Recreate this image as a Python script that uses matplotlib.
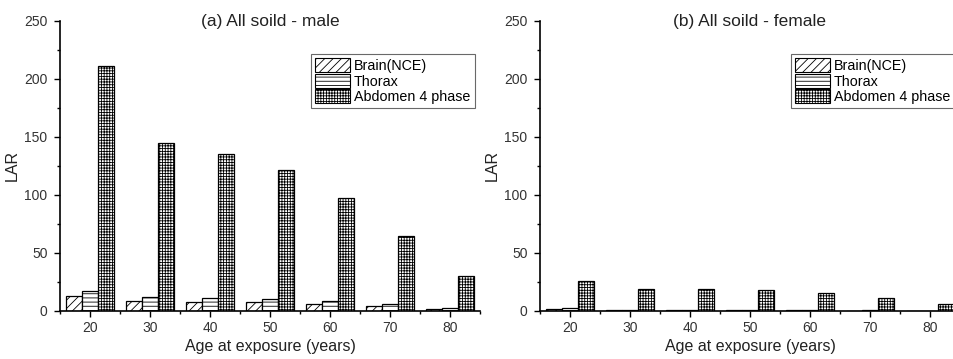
import numpy as np
import matplotlib.pyplot as plt
from matplotlib.patches import Patch
from matplotlib.ticker import MultipleLocator

plt.rcParams['font.family'] = ['Liberation Sans', 'DejaVu Sans']
plt.rcParams['hatch.linewidth'] = 0.6

ages = [20, 30, 40, 50, 60, 70, 80]
series = ["Brain(NCE)", "Thorax", "Abdomen 4 phase"]

male_brain = [13.2, 8.6, 8.0, 7.5, 6.0, 4.3, 1.7]
male_thorax = [17.2, 12.0, 11.2, 10.0, 8.3, 6.0, 2.6]
male_abdomen = [211, 144.5, 135.5, 121, 97, 64.6, 30]

female_brain = [1.5, 0.8, 0.7, 0.6, 0.5, 0.4, 0.2]
female_thorax = [2.5, 1.2, 1.1, 1.0, 0.8, 0.6, 0.3]
female_abdomen = [25.8, 18.7, 18.7, 17.8, 15.5, 10.9, 6.0]

hatches = ['////', '----', '++++++']
w = 2.67

fig = plt.figure(figsize=(9.54, 3.59), dpi=100)
ax1 = fig.add_axes([60/954, 48/359, 420/954, 290.3/359])
ax2 = fig.add_axes([540/954, 48/359, 420/954, 290.3/359])

panels = [
    (ax1, "(a) All soild - male", [male_brain, male_thorax, male_abdomen]),
    (ax2, "(b) All soild - female", [female_brain, female_thorax, female_abdomen]),
]

x = np.array(ages, dtype=float)
for ax, title, data in panels:
    for i, vals in enumerate(data):
        ax.bar(x + (i - 1) * w, vals, width=w, facecolor='white', edgecolor='black',
               linewidth=0.9, hatch=hatches[i])
    ax.set_xlim(15, 85)
    ax.set_ylim(0, 250)
    ax.set_xticks(ages)
    ax.set_xticks(np.arange(15, 86, 10), minor=True)
    ax.yaxis.set_major_locator(MultipleLocator(50))
    ax.yaxis.set_minor_locator(MultipleLocator(25))
    ax.tick_params(which='major', direction='out', length=4, width=1, labelsize=10,
                   colors='black', labelcolor='#333333')
    ax.tick_params(which='minor', direction='out', length=2.5, width=1)
    ax.tick_params(axis='y', pad=5)
    ax.tick_params(axis='x', pad=3)
    for s in ['top', 'right']:
        ax.spines[s].set_visible(False)
    for s in ['left', 'bottom']:
        ax.spines[s].set_linewidth(1.2)
    ax.set_xlabel("Age at exposure (years)", fontsize=11.5, color='#222222', labelpad=3)
    ax.set_ylabel("LAR", fontsize=11.5, color='#222222', labelpad=3)
    ax.text(0.5, 0.983, title, transform=ax.transAxes, ha='center', va='baseline',
            fontsize=12.5, color='#222222')
    handles = [Patch(facecolor='white', edgecolor='black', linewidth=0.8, hatch=h) for h in hatches]
    leg = ax.legend(handles, series, loc='upper left', bbox_to_anchor=(0.598, 0.885),
                    fontsize=10.3, frameon=True, fancybox=False, borderpad=0.3,
                    handlelength=2.4, handleheight=1.1, handletextpad=0.3,
                    labelspacing=0.05, borderaxespad=0)
    leg.get_frame().set_edgecolor('#444444')
    leg.get_frame().set_linewidth(0.8)

fig.savefig("out.png", dpi=100)
